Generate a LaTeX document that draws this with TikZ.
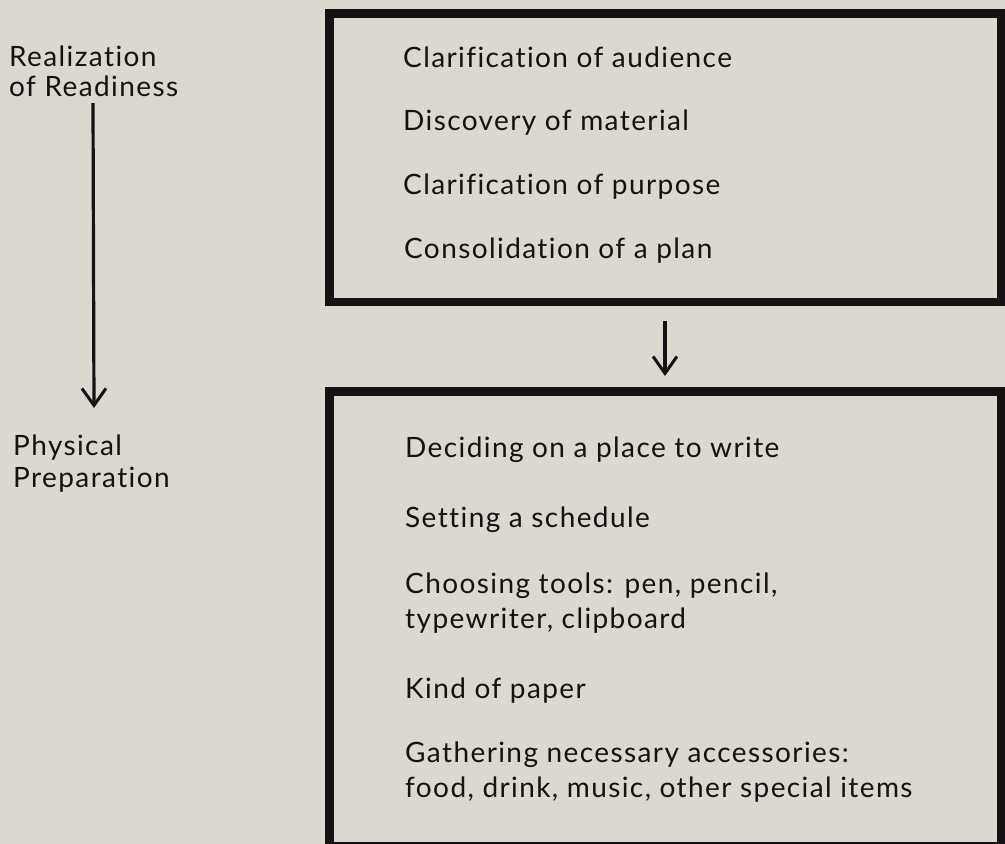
\documentclass[tikz,border=0pt]{standalone}
\usepackage{fontspec}
\setmainfont{Lato}[LetterSpace=5,Ligatures=NoCommon]
\usetikzlibrary{arrows.meta}
\definecolor{paper}{RGB}{218,216,207}
\definecolor{ink}{RGB}{20,18,18}
\begin{document}
\begin{tikzpicture}[x=1pt,y=-1pt,
  frame/.style={draw=ink,line width=8.5pt,rectangle,inner sep=0pt},
  item/.style={anchor=base west,inner sep=0pt,text=ink,align=left,
    font=\fontsize{28}{35}\selectfont},
  arr/.style={draw=ink,line width=3.2pt,-{Straight Barb[length=17pt,width=24pt,line width=3pt]}}
]
\useasboundingbox[fill=paper] (0,0) rectangle (1005,844);
% boxes
\node[frame,minimum width=671.5pt,minimum height=288.5pt] (box1) at (665,157.5) {};
\node[frame,minimum width=671.5pt,minimum height=454.5pt] (box2) at (665,618.5) {};
% left labels (base = last line)
\node[item,font=\fontsize{28}{30}\selectfont] (real) at (9,96) {Realization\\of Readiness};
\node[item,font=\fontsize{28}{32}\selectfont] (phys) at (13,487) {Physical\\Preparation};
\coordinate (a1s) at (93,103);
\coordinate (a1e) at (94,408);
\draw[arr] (a1s) -- (a1e);
% box 1 items
\node[item] (c1) at (403,67) {Clarification of audience};
\node[item] (c2) at (403,130) {Discovery of material};
\node[item] (c3) at (403,194) {Clarification of purpose};
\node[item] (c4) at (404,258) {Consolidation of a plan};
% box 2 items
\node[item] (d1) at (405,457) {Deciding on a place to write};
\node[item] (d2) at (405,527) {Setting a schedule};
\node[item] (d3) at (405,628) {Choosing tools: pen, pencil,\\typewriter, clipboard};
\node[item] (d4) at (405,698) {Kind of paper};
\node[item] (d5) at (405,797) {Gathering necessary accessories:\\food, drink, music, other special items};
% middle arrow
\draw[arr,shorten <=15pt,shorten >=11pt] (box1.south) -- (box2.north);
\end{tikzpicture}
\end{document}
